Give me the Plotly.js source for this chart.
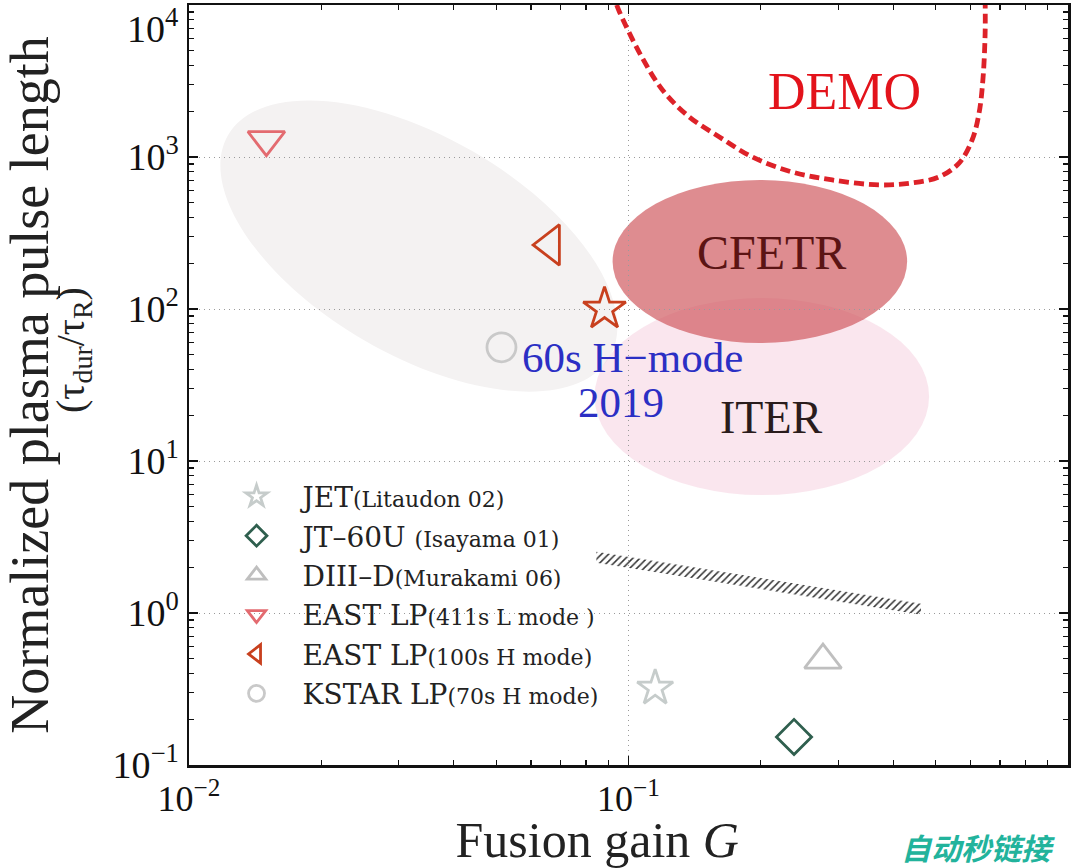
<!DOCTYPE html>
<html>
<head>
<meta charset="utf-8">
<script src="https://cdn.plot.ly/plotly-3.0.1.min.js"></script>
<style>html,body{margin:0;padding:0;background:#fff;}#chart{width:1080px;height:868px;}</style>
</head>
<body>
<div id="chart"></div>
<script>
// ---------------- data ----------------
const seriesNames = [
  "JET<span style='font-size:22px'>(Litaudon 02)</span>",
  "JT–60U <span style='font-size:22px'>(Isayama 01)</span>",
  "DIII–D<span style='font-size:22px'>(Murakami 06)</span>",
  "EAST LP<span style='font-size:22px'>(411s L mode )</span>",
  "EAST LP<span style='font-size:22px'>(100s H mode)</span>",
  "KSTAR LP<span style='font-size:22px'>(70s H mode)</span>"
];
const seriesG   = [0.115, 0.238, 0.277, 0.0150, 0.0665, 0.0514];
const seriesTau = [0.321, 0.153, 0.49, 1300, 264, 56];

const eastH2019G = [0.0882];
const eastH2019Tau = [100];

// DEMO boundary (dashed)
const demoG   = [0.094, 0.0954, 0.106, 0.1195, 0.1376, 0.161, 0.1913, 0.2359, 0.2908, 0.372, 0.4418, 0.5089, 0.5651, 0.605, 0.6276, 0.641, 0.6478, 0.648];
const demoTau = [10000, 8990, 4830, 2760, 1832, 1355, 1000, 796, 706, 655, 675, 739, 913, 1294, 1948, 3360, 6546, 10000];

// hatched band corners
const bandG   = [0.0845, 0.463, 0.463, 0.0845];
const bandTau = [2.53, 1.15, 0.975, 2.14];

// regions
const cfetrG = [0.0920, 0.4305], cfetrTau = [59.7, 706];
const iterG  = [0.0837, 0.483],  iterTau  = [5.97, 118];
// grey region: centre and two semi-axis vectors in decades (log10 G, log10 tau)
const greyCentre = [-1.477, 2.414];
const greyMajor  = [0.434, -0.730];
const greyMinor  = [-0.1245, -0.620];

// ticks
const xTickVals = [0.01, 0.1, 1];
const xTickText = ['10<sup>−2</sup>', '10<sup>−1</sup>', '10<sup>0</sup>'];
const yTickVals = [0.1, 1, 10, 100, 1000, 10000];
const yTickText = ['10<sup>−1</sup>', '10<sup>0</sup>', '10<sup>1</sup>', '10<sup>2</sup>', '10<sup>3</sup>', ''];
const yTopTickText = '10<sup>4</sup>';

// ---------------- styles ----------------
const FONT = 'Liberation Serif, Times New Roman, serif';
const LFONT = 'DejaVu Serif, serif';
const symbols = ['star-open', 'diamond-open', 'triangle-up-open', 'triangle-down-open', 'triangle-left-open', 'circle-open'];
const colors  = ['#c6cccb', '#2f5f4e', '#bfbfbf', '#e36b70', '#c8401e', '#c9c9c9'];
const sizes   = [27, 27, 32, 32, 35, 29];

// grey ellipse path (cubic Bezier approximation, built in log space)
function greyPath() {
  const k = 0.5523;
  const c = greyCentre, a = greyMajor, b = greyMinor;
  const P = (u, v) => [c[0] + u * a[0] + v * b[0], c[1] + u * a[1] + v * b[1]];
  const f = p => Math.pow(10, p[0]) + ',' + Math.pow(10, p[1]);
  const pts = [
    [[1, 0]],
    [[1, k], [k, 1], [0, 1]],
    [[-k, 1], [-1, k], [-1, 0]],
    [[-1, -k], [-k, -1], [0, -1]],
    [[k, -1], [1, -k], [1, 0]]
  ];
  let s = 'M' + f(P(...pts[0][0]));
  for (let i = 1; i < pts.length; i++) {
    s += ' C' + pts[i].map(q => f(P(q[0], q[1]))).join(' ');
  }
  return s + ' Z';
}

const traces = [];
// hatched band
traces.push({
  x: bandG, y: bandTau, type: 'scatter', mode: 'lines', fill: 'toself',
  line: {width: 0, color: 'rgba(0,0,0,0)'},
  fillcolor: 'rgba(0,0,0,0)',
  fillpattern: {shape: '/', fgcolor: '#333', bgcolor: 'rgba(0,0,0,0)', size: 5, solidity: 0.3},
  showlegend: false, hoverinfo: 'skip'
});
// DEMO
traces.push({
  x: demoG, y: demoTau, type: 'scatter', mode: 'lines',
  line: {color: '#dd2229', width: 4.8, dash: '10px,5px', shape: 'spline'},
  showlegend: false, hoverinfo: 'skip'
});
// series
for (let i = 0; i < seriesNames.length; i++) {
  traces.push({
    x: [seriesG[i]], y: [seriesTau[i]], type: 'scatter', mode: 'markers',
    name: seriesNames[i],
    marker: {symbol: symbols[i], size: sizes[i], color: colors[i], line: {width: 2.8, color: colors[i]}}
  });
}
traces.push({
  x: eastH2019G, y: eastH2019Tau, type: 'scatter', mode: 'markers', showlegend: false,
  marker: {symbol: 'star-open', size: 32, color: '#c8401e', line: {width: 2.8, color: '#c8401e'}}
});

const axisCommon = {
  type: 'log', showline: true, linewidth: 2.5, linecolor: '#111', mirror: 'allticks',
  ticks: 'inside', ticklen: 9, tickwidth: 1.5, tickcolor: '#111',
  tickmode: 'array',
  showgrid: true, gridcolor: '#9a9a9a', gridwidth: 1, griddash: '1px,4px',
  zeroline: false,
  tickfont: {family: FONT, size: 38, color: '#111'},
  minor: {ticks: 'inside', ticklen: 5, tickwidth: 1.2, tickcolor: '#111', tickmode: 'linear', dtick: 'D1', showgrid: false}
};

const layout = {
  width: 1080, height: 868,
  margin: {l: 189, r: 12, t: 5, b: 103},
  paper_bgcolor: '#fff', plot_bgcolor: '#fff',
  font: {family: FONT, color: '#222'},
  showlegend: true,
  legend: {
    x: 0.0245, y: 0.386, xanchor: 'left', yanchor: 'top',
    bgcolor: 'rgba(0,0,0,0)', borderwidth: 0,
    font: {family: LFONT, size: 28, color: '#222'},
    itemwidth: 82, tracegroupgap: 0
  },
  xaxis: Object.assign({}, axisCommon, {
    range: [-2, 0], tickvals: xTickVals, ticktext: xTickText,
    ticklabelstandoff: 0,
    tickfont: {family: FONT, size: 36, color: '#111'},
    title: {text: 'Fusion gain <i>G</i>&nbsp;&nbsp;&nbsp;&nbsp;&nbsp;', font: {family: FONT, size: 50, color: '#222'}, standoff: 9}
  }),
  yaxis: Object.assign({}, axisCommon, {
    range: [-1, 4], tickvals: yTickVals, ticktext: yTickText,
    title: {text: 'Normalized plasma pulse length', font: {family: FONT, size: 54, color: '#222'}, standoff: 62}
  }),
  shapes: [
    {type: 'path', path: greyPath(), xref: 'x', yref: 'y', layer: 'below',
     fillcolor: '#f4f2f2', line: {width: 0}},
    {type: 'circle', xref: 'x', yref: 'y', x0: iterG[0], x1: iterG[1], y0: iterTau[0], y1: iterTau[1],
     layer: 'below', fillcolor: 'rgba(246,205,222,0.5)', line: {width: 0}},
    {type: 'circle', xref: 'x', yref: 'y', x0: cfetrG[0], x1: cfetrG[1], y0: cfetrTau[0], y1: cfetrTau[1],
     layer: 'below', fillcolor: 'rgba(206,86,92,0.68)', line: {width: 0}}
  ],
  annotations: [
    {text: yTopTickText, xref: 'paper', yref: 'paper', x: -0.0102, y: 0.973, xanchor: 'right', yanchor: 'middle',
     showarrow: false, font: {family: FONT, size: 38, color: '#111'}},
    {text: '(τ<sub>dur</sub>/τ<sub>R</sub>)', xref: 'paper', yref: 'paper', x: -0.132, y: 0.546,
     xanchor: 'center', yanchor: 'middle',
     textangle: -90, showarrow: false, font: {family: FONT, size: 40, color: '#222'}},
    {text: 'DEMO', xref: 'x', yref: 'y', x: -0.509, y: 3.428, showarrow: false,
     font: {family: FONT, size: 52, color: '#e3131b'}},
    {text: 'CFETR', xref: 'x', yref: 'y', x: -0.675, y: 2.375, showarrow: false,
     font: {family: FONT, size: 48, color: '#5b1414'}},
    {text: 'ITER', xref: 'x', yref: 'y', x: -0.675, y: 1.289, showarrow: false,
     font: {family: FONT, size: 46, color: '#2a1c1c'}},
    {text: '60s H−mode', xref: 'x', yref: 'y', x: -0.991, y: 1.684, showarrow: false,
     font: {family: FONT, size: 43, color: '#2b2fc4'}},
    {text: '2019', xref: 'x', yref: 'y', x: -1.018, y: 1.382, showarrow: false,
     font: {family: FONT, size: 43, color: '#2b2fc4'}},
    {text: '<b><i>自动秒链接</i></b>', xref: 'paper', yref: 'paper', x: 0.8976, y: -0.1075,
     xanchor: 'center', yanchor: 'middle',
     showarrow: false, font: {family: 'Noto Sans CJK SC', size: 30, color: '#22b39c'}}
  ]
};

Plotly.newPlot('chart', traces, layout, {displayModeBar: false, staticPlot: true});
</script>
</body>
</html>
